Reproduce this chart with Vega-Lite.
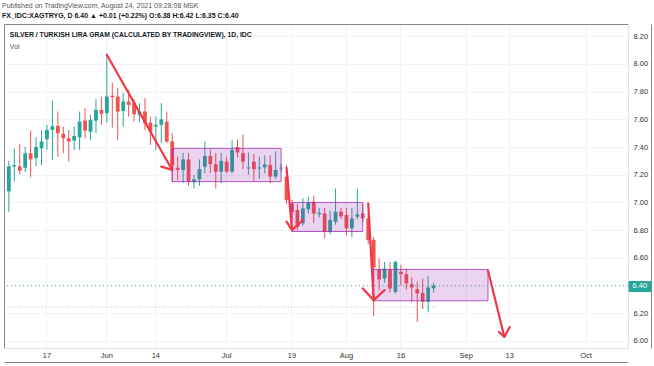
{
  "$schema": "https://vega.github.io/schema/vega-lite/v6.json",
  "width": 624,
  "height": 324,
  "autosize": {"type": "none"},
  "padding": {"left": 4, "top": 24, "right": 26, "bottom": 18},
  "background": "#ffffff",
  "config": {"view": {"stroke": null}, "font": "Liberation Sans"},
  "title": {
    "text": "Published on TradingView.com, August 24, 2021 09:28:08 MSK",
    "subtitle": "FX_IDC:XAGTRYG, D  6.40 ▲ +0.01 (+0.22%)  O:6.38  H:6.42  L:6.35  C:6.40",
    "anchor": "start", "frame": "group", "offset": 5, "dx": -2,
    "fontSize": 7, "font": "Liberation Sans", "fontWeight": "normal", "color": "#555555",
    "subtitleFontSize": 7, "subtitleFont": "Liberation Sans", "subtitleColor": "#131722", "subtitleFontWeight": "bold", "subtitlePadding": 3
  },
  "datasets": {
    "candles": [
      {"d": "2021-05-06", "o": 7.08, "h": 7.30, "l": 6.93, "c": 7.26},
      {"d": "2021-05-07", "o": 7.26, "h": 7.39, "l": 7.15, "c": 7.27},
      {"d": "2021-05-10", "o": 7.26, "h": 7.42, "l": 7.20, "c": 7.23},
      {"d": "2021-05-11", "o": 7.25, "h": 7.40, "l": 7.22, "c": 7.355},
      {"d": "2021-05-12", "o": 7.355, "h": 7.52, "l": 7.18, "c": 7.31},
      {"d": "2021-05-13", "o": 7.32, "h": 7.47, "l": 7.26, "c": 7.40},
      {"d": "2021-05-14", "o": 7.39, "h": 7.52, "l": 7.27, "c": 7.44},
      {"d": "2021-05-17", "o": 7.456, "h": 7.56, "l": 7.38, "c": 7.523},
      {"d": "2021-05-18", "o": 7.523, "h": 7.735, "l": 7.307, "c": 7.55},
      {"d": "2021-05-19", "o": 7.552, "h": 7.656, "l": 7.33, "c": 7.50},
      {"d": "2021-05-20", "o": 7.495, "h": 7.547, "l": 7.355, "c": 7.463},
      {"d": "2021-05-21", "o": 7.463, "h": 7.523, "l": 7.294, "c": 7.439},
      {"d": "2021-05-24", "o": 7.446, "h": 7.547, "l": 7.379, "c": 7.48},
      {"d": "2021-05-25", "o": 7.47, "h": 7.656, "l": 7.379, "c": 7.583},
      {"d": "2021-05-26", "o": 7.59, "h": 7.68, "l": 7.463, "c": 7.518},
      {"d": "2021-05-27", "o": 7.51, "h": 7.632, "l": 7.451, "c": 7.596},
      {"d": "2021-05-28", "o": 7.59, "h": 7.745, "l": 7.50, "c": 7.668},
      {"d": "2021-05-31", "o": 7.668, "h": 7.764, "l": 7.56, "c": 7.64},
      {"d": "2021-06-01", "o": 7.644, "h": 8.066, "l": 7.574, "c": 7.764},
      {"d": "2021-06-02", "o": 7.77, "h": 7.863, "l": 7.54, "c": 7.76},
      {"d": "2021-06-03", "o": 7.764, "h": 7.827, "l": 7.451, "c": 7.656},
      {"d": "2021-06-04", "o": 7.66, "h": 7.79, "l": 7.547, "c": 7.728},
      {"d": "2021-06-07", "o": 7.728, "h": 7.813, "l": 7.62, "c": 7.704},
      {"d": "2021-06-08", "o": 7.72, "h": 7.75, "l": 7.583, "c": 7.637},
      {"d": "2021-06-09", "o": 7.632, "h": 7.716, "l": 7.583, "c": 7.656},
      {"d": "2021-06-10", "o": 7.656, "h": 7.753, "l": 7.523, "c": 7.572},
      {"d": "2021-06-11", "o": 7.576, "h": 7.62, "l": 7.415, "c": 7.51},
      {"d": "2021-06-14", "o": 7.547, "h": 7.62, "l": 7.379, "c": 7.56},
      {"d": "2021-06-15", "o": 7.56, "h": 7.716, "l": 7.427, "c": 7.60},
      {"d": "2021-06-16", "o": 7.583, "h": 7.656, "l": 7.427, "c": 7.439},
      {"d": "2021-06-17", "o": 7.44, "h": 7.50, "l": 7.15, "c": 7.27},
      {"d": "2021-06-18", "o": 7.25, "h": 7.33, "l": 7.16, "c": 7.235},
      {"d": "2021-06-21", "o": 7.234, "h": 7.357, "l": 7.14, "c": 7.31},
      {"d": "2021-06-22", "o": 7.31, "h": 7.357, "l": 7.12, "c": 7.15},
      {"d": "2021-06-23", "o": 7.147, "h": 7.198, "l": 7.10, "c": 7.167},
      {"d": "2021-06-24", "o": 7.167, "h": 7.31, "l": 7.12, "c": 7.24},
      {"d": "2021-06-25", "o": 7.258, "h": 7.44, "l": 7.21, "c": 7.335},
      {"d": "2021-06-28", "o": 7.335, "h": 7.38, "l": 7.21, "c": 7.277},
      {"d": "2021-06-29", "o": 7.275, "h": 7.357, "l": 7.10, "c": 7.222},
      {"d": "2021-06-30", "o": 7.222, "h": 7.357, "l": 7.14, "c": 7.30},
      {"d": "2021-07-01", "o": 7.294, "h": 7.33, "l": 7.21, "c": 7.222},
      {"d": "2021-07-02", "o": 7.222, "h": 7.45, "l": 7.21, "c": 7.379},
      {"d": "2021-07-05", "o": 7.40, "h": 7.456, "l": 7.326, "c": 7.36},
      {"d": "2021-07-06", "o": 7.355, "h": 7.49, "l": 7.24, "c": 7.294},
      {"d": "2021-07-07", "o": 7.245, "h": 7.36, "l": 7.20, "c": 7.252},
      {"d": "2021-07-08", "o": 7.294, "h": 7.35, "l": 7.15, "c": 7.24},
      {"d": "2021-07-09", "o": 7.245, "h": 7.33, "l": 7.17, "c": 7.252},
      {"d": "2021-07-12", "o": 7.254, "h": 7.34, "l": 7.21, "c": 7.275},
      {"d": "2021-07-13", "o": 7.27, "h": 7.34, "l": 7.14, "c": 7.186},
      {"d": "2021-07-14", "o": 7.186, "h": 7.37, "l": 7.17, "c": 7.234},
      {"d": "2021-07-15", "o": 7.245, "h": 7.28, "l": 7.22, "c": 7.25},
      {"d": "2021-07-16", "o": 7.186, "h": 7.27, "l": 6.99, "c": 7.017},
      {"d": "2021-07-19", "o": 6.993, "h": 7.02, "l": 6.88, "c": 6.93},
      {"d": "2021-07-20", "o": 6.945, "h": 6.99, "l": 6.80, "c": 6.824},
      {"d": "2021-07-21", "o": 6.849, "h": 7.03, "l": 6.83, "c": 6.957},
      {"d": "2021-07-22", "o": 6.95, "h": 7.04, "l": 6.92, "c": 6.998},
      {"d": "2021-07-23", "o": 7.005, "h": 7.05, "l": 6.85, "c": 6.92},
      {"d": "2021-07-26", "o": 6.914, "h": 6.96, "l": 6.89, "c": 6.925},
      {"d": "2021-07-27", "o": 6.92, "h": 6.96, "l": 6.74, "c": 6.788},
      {"d": "2021-07-28", "o": 6.788, "h": 6.94, "l": 6.77, "c": 6.873},
      {"d": "2021-07-29", "o": 6.86, "h": 7.10, "l": 6.84, "c": 6.933},
      {"d": "2021-07-30", "o": 6.933, "h": 6.96, "l": 6.88, "c": 6.90},
      {"d": "2021-08-02", "o": 6.909, "h": 6.96, "l": 6.76, "c": 6.813},
      {"d": "2021-08-03", "o": 6.813, "h": 6.96, "l": 6.75, "c": 6.885},
      {"d": "2021-08-04", "o": 6.897, "h": 7.10, "l": 6.88, "c": 6.914},
      {"d": "2021-08-05", "o": 6.92, "h": 6.99, "l": 6.86, "c": 6.885},
      {"d": "2021-08-06", "o": 6.885, "h": 6.92, "l": 6.70, "c": 6.728},
      {"d": "2021-08-09", "o": 6.73, "h": 6.75, "l": 6.18, "c": 6.53},
      {"d": "2021-08-10", "o": 6.516, "h": 6.596, "l": 6.367, "c": 6.444},
      {"d": "2021-08-11", "o": 6.451, "h": 6.57, "l": 6.42, "c": 6.523},
      {"d": "2021-08-12", "o": 6.516, "h": 6.57, "l": 6.35, "c": 6.379},
      {"d": "2021-08-13", "o": 6.354, "h": 6.58, "l": 6.34, "c": 6.571},
      {"d": "2021-08-16", "o": 6.499, "h": 6.55, "l": 6.40, "c": 6.482},
      {"d": "2021-08-17", "o": 6.482, "h": 6.52, "l": 6.37, "c": 6.415},
      {"d": "2021-08-18", "o": 6.41, "h": 6.46, "l": 6.28, "c": 6.386},
      {"d": "2021-08-19", "o": 6.374, "h": 6.427, "l": 6.137, "c": 6.343},
      {"d": "2021-08-20", "o": 6.347, "h": 6.45, "l": 6.23, "c": 6.282},
      {"d": "2021-08-23", "o": 6.282, "h": 6.47, "l": 6.21, "c": 6.386},
      {"d": "2021-08-24", "o": 6.38, "h": 6.42, "l": 6.35, "c": 6.40}
    ],
    "boxes": [
      {"d": "2021-06-17", "d2": "2021-07-15", "p": 7.15, "p2": 7.39},
      {"d": "2021-07-19", "d2": "2021-08-05", "p": 6.79, "p2": 7.00},
      {"d": "2021-08-09", "d2": "2021-09-07", "p": 6.29, "p2": 6.516}
    ],
    "arrows": [
      {"d": "2021-06-01", "p": 8.066, "d2": "2021-06-17", "p2": 7.234},
      {"d": "2021-06-15", "p": 7.258, "d2": "2021-06-17", "p2": 7.234},
      {"d": "2021-06-17", "p": 7.33, "d2": "2021-06-17", "p2": 7.234},
      {"d": "2021-07-16", "p": 7.25, "d2": "2021-07-19", "p2": 6.80},
      {"d": "2021-07-16", "p": 6.861, "d2": "2021-07-19", "p2": 6.80},
      {"d": "2021-07-21", "p": 6.873, "d2": "2021-07-19", "p2": 6.80},
      {"d": "2021-08-06", "p": 6.993, "d2": "2021-08-09", "p2": 6.294},
      {"d": "2021-08-05", "p": 6.379, "d2": "2021-08-09", "p2": 6.294},
      {"d": "2021-08-11", "p": 6.367, "d2": "2021-08-09", "p2": 6.294},
      {"d": "2021-09-07", "p": 6.509, "d2": "2021-09-10", "p2": 6.03},
      {"d": "2021-09-09", "p": 6.065, "d2": "2021-09-10", "p2": 6.03},
      {"d": "2021-09-13", "p": 6.10, "d2": "2021-09-10", "p2": 6.03}
    ],
    "levels": [
      {"d": "2021-05-06", "d2": "2021-08-24", "p": 6.245}
    ],
    "one": [{}]
  },
  "resolve": {"axis": {"x": "independent", "y": "independent"}},
  "layer": [
    {
      "data": {"name": "candles"},
      "mark": {"type": "rule", "strokeWidth": 1},
      "encoding": {
        "x": {
          "field": "d", "type": "ordinal",
          "scale": {
            "type": "band", "paddingInner": 0, "paddingOuter": 0.3, "align": 0.65,
            "domain": ["2021-05-06","2021-05-07","2021-05-10","2021-05-11","2021-05-12","2021-05-13","2021-05-14","2021-05-17","2021-05-18","2021-05-19","2021-05-20","2021-05-21","2021-05-24","2021-05-25","2021-05-26","2021-05-27","2021-05-28","2021-05-31",
              "2021-06-01","2021-06-02","2021-06-03","2021-06-04","2021-06-07","2021-06-08","2021-06-09","2021-06-10","2021-06-11","2021-06-14","2021-06-15","2021-06-16","2021-06-17","2021-06-18","2021-06-21","2021-06-22","2021-06-23","2021-06-24","2021-06-25","2021-06-28","2021-06-29","2021-06-30",
              "2021-07-01","2021-07-02","2021-07-05","2021-07-06","2021-07-07","2021-07-08","2021-07-09","2021-07-12","2021-07-13","2021-07-14","2021-07-15","2021-07-16","2021-07-19","2021-07-20","2021-07-21","2021-07-22","2021-07-23","2021-07-26","2021-07-27","2021-07-28","2021-07-29","2021-07-30",
              "2021-08-02","2021-08-03","2021-08-04","2021-08-05","2021-08-06","2021-08-09","2021-08-10","2021-08-11","2021-08-12","2021-08-13","2021-08-16","2021-08-17","2021-08-18","2021-08-19","2021-08-20","2021-08-23","2021-08-24","2021-08-25","2021-08-26","2021-08-27","2021-08-30","2021-08-31",
              "2021-09-01","2021-09-02","2021-09-03","2021-09-06","2021-09-07","2021-09-08","2021-09-09","2021-09-10","2021-09-13","2021-09-14","2021-09-15","2021-09-16","2021-09-17","2021-09-20","2021-09-21","2021-09-22","2021-09-23","2021-09-24","2021-09-27","2021-09-28","2021-09-29","2021-09-30",
              "2021-10-01","2021-10-04","2021-10-05","2021-10-06","2021-10-07","2021-10-08","2021-10-11","2021-10-12"]
          },
          "axis": {
            "orient": "bottom",
            "values": ["2021-05-17","2021-06-01","2021-06-14","2021-07-01","2021-07-19","2021-08-02","2021-08-16","2021-09-01","2021-09-13","2021-10-01"],
            "labelExpr": "datum.value == '2021-06-01' ? 'Jun' : datum.value == '2021-07-01' ? 'Jul' : datum.value == '2021-08-02' ? 'Aug' : datum.value == '2021-09-01' ? 'Sep' : datum.value == '2021-10-01' ? 'Oct' : slice(datum.value, 8)",
            "bandPosition": 0.5, "grid": true, "gridColor": "#f0f3fa", "gridWidth": 1,
            "ticks": false, "domain": true, "domainColor": "#e0e3eb",
            "labelColor": "#333333", "labelFontSize": 7.5, "labelPadding": 3, "labelAngle": 0,
            "title": null, "zindex": 0
          }
        },
        "y": {
          "field": "l", "type": "quantitative",
          "scale": {"domain": [5.949, 8.288], "zero": false, "nice": false},
          "axis": {
            "orient": "right",
            "values": [6.0, 6.2, 6.4, 6.6, 6.8, 7.0, 7.2, 7.4, 7.6, 7.8, 8.0, 8.2],
            "format": ".2f", "grid": true, "gridColor": "#f0f3fa", "ticks": false,
            "domain": true, "domainColor": "#e0e3eb",
            "labelAlign": "left", "labelPadding": 5, "labelFontSize": 7.5, "labelColor": "#333333",
            "title": null, "zindex": 0
          }
        },
        "y2": {"field": "h"},
        "color": {"condition": {"test": "datum.c >= datum.o", "value": "#26a69a"}, "value": "#ef5350"}
      }
    },
    {
      "data": {"name": "candles"},
      "mark": {"type": "bar", "width": 3.8},
      "encoding": {
        "x": {"field": "d", "type": "ordinal", "scale": {"type": "band"},
          "axis": {"orient": "top", "labels": false, "ticks": false, "grid": false, "domain": true, "domainColor": "#8a8a8a", "title": null}},
        "y": {"field": "o", "type": "quantitative",
          "axis": {"orient": "left", "labels": false, "ticks": false, "grid": false, "domain": true, "domainColor": "#8a8a8a", "title": null}},
        "y2": {"field": "c"},
        "color": {"condition": {"test": "datum.c >= datum.o", "value": "#26a69a"}, "value": "#ef5350"}
      }
    },
    {
      "data": {"name": "levels"},
      "mark": {"type": "rule", "color": "#b2b5be", "strokeWidth": 1, "strokeDash": [1, 2], "opacity": 0.8},
      "encoding": {
        "x": {"field": "d", "type": "ordinal", "scale": {"type": "band"}, "bandPosition": 0, "axis": null},
        "x2": {"field": "d2", "bandPosition": 1},
        "y": {"field": "p", "type": "quantitative", "axis": null}
      }
    },
    {
      "data": {"name": "boxes"},
      "mark": {"type": "rect", "fill": "#9c27b0", "fillOpacity": 0.2, "stroke": "#9c27b0", "strokeOpacity": 0.75, "strokeWidth": 1},
      "encoding": {
        "x": {"field": "d", "type": "ordinal", "scale": {"type": "band"}, "bandPosition": 0.5,
          "axis": {"orient": "bottom", "offset": 14, "labels": false, "ticks": false, "grid": false, "domain": true, "domainColor": "#8a8a8a", "title": null}},
        "x2": {"field": "d2", "bandPosition": 0.5},
        "y": {"field": "p", "type": "quantitative",
          "axis": {"orient": "right", "offset": 23, "labels": false, "ticks": false, "grid": false, "domain": true, "domainColor": "#8a8a8a", "title": null}},
        "y2": {"field": "p2"}
      }
    },
    {
      "data": {"name": "arrows"},
      "mark": {"type": "rule", "color": "#f23645", "strokeWidth": 2.2, "strokeCap": "round"},
      "encoding": {
        "x": {"field": "d", "type": "ordinal", "scale": {"type": "band"}, "bandPosition": 0.5, "axis": null},
        "x2": {"field": "d2", "bandPosition": 0.5},
        "y": {"field": "p", "type": "quantitative",
          "axis": {"orient": "right", "values": [6.4], "format": ".2f", "grid": false, "domain": false,
            "ticks": true, "tickSize": 23, "tickWidth": 11, "tickColor": "#26a69a", "tickCap": "butt",
            "labelColor": "#ffffff", "labelPadding": -19, "labelAlign": "left", "labelFontSize": 7.5, "title": null, "zindex": 2}},
        "y2": {"field": "p2"}
      }
    },
    {
      "data": {"name": "one"},
      "mark": {"type": "rule", "color": "#26a69a", "strokeWidth": 1, "strokeDash": [1, 3], "opacity": 0.75},
      "encoding": {"y": {"datum": 6.4, "type": "quantitative", "axis": null}}
    },
    {
      "data": {"name": "one"},
      "mark": {"type": "text", "align": "left", "baseline": "middle", "dx": 1, "fontSize": 6.8, "fontWeight": "bold", "color": "#131722", "text": "SILVER / TURKISH LIRA GRAM (CALCULATED BY TRADINGVIEW), 1D, IDC"},
      "encoding": {
        "x": {"datum": "2021-05-06", "type": "ordinal", "axis": null},
        "y": {"datum": 8.205, "type": "quantitative", "axis": null}
      }
    },
    {
      "data": {"name": "one"},
      "mark": {"type": "text", "align": "left", "baseline": "middle", "dx": 1, "fontSize": 7, "color": "#555555", "text": "Vol"},
      "encoding": {
        "x": {"datum": "2021-05-06", "type": "ordinal", "axis": null},
        "y": {"datum": 8.12, "type": "quantitative", "axis": null}
      }
    }
  ]
}
